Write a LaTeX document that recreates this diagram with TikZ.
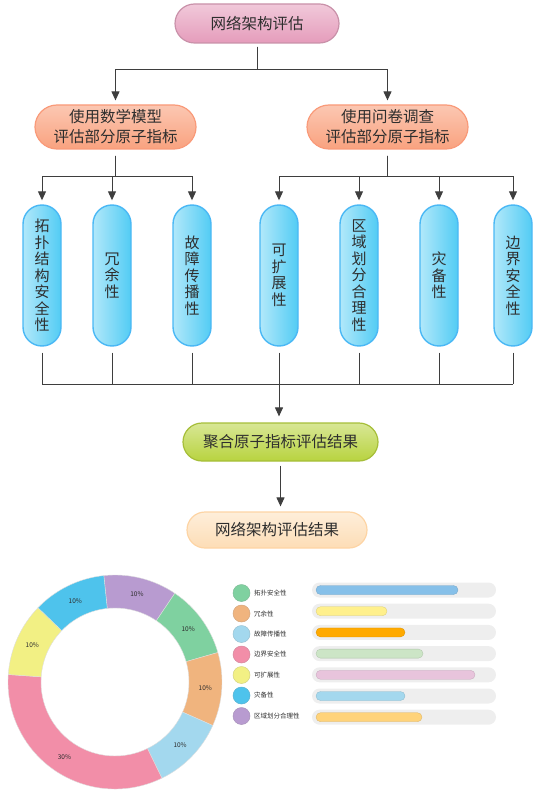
\documentclass[tikz,border=0pt]{standalone}
\usepackage{fontspec}
\setmainfont{Noto Sans CJK SC}
\usepackage{tikz}
\usetikzlibrary{arrows.meta}

\definecolor{linegray}{HTML}{3E3E3E}
\definecolor{txtgray}{HTML}{2E2E2E}
\definecolor{dpurple}{HTML}{B89BD0}
\definecolor{dgreen}{HTML}{7FD1A0}
\definecolor{dorange}{HTML}{F0B47E}
\definecolor{dlblue}{HTML}{A3D8EE}
\definecolor{dpink}{HTML}{F28EA8}
\definecolor{dyellow}{HTML}{F2F084}
\definecolor{dblue}{HTML}{4EC3EC}
\definecolor{bargray}{HTML}{EEEEEE}
\definecolor{barone}{HTML}{86C0E9}
\definecolor{bartwo}{HTML}{FFF08C}
\definecolor{barthree}{HTML}{FFAA00}
\definecolor{barfour}{HTML}{CCE5C6}
\definecolor{barfive}{HTML}{E8C4DC}
\definecolor{barsix}{HTML}{A4D8EE}
\definecolor{barseven}{HTML}{FFD37A}

\tikzset{
  box/.style={rectangle, inner sep=0pt, text=txtgray, align=center, line width=1.2pt,
    font=\fontsize{15.5}{20}\selectfont},
  netbox/.style={box, minimum width=164pt, minimum height=39pt, rounded corners=19.5pt,
    top color=white!45!netpink, bottom color=netpink, draw=netpink!85!black!90},
  methodbox/.style={box, minimum width=161pt, minimum height=44pt, rounded corners=22pt,
    top color=white!40!methodorange, bottom color=methodorange, draw=methodorange!95!red},
  pill/.style={box, minimum width=38pt, minimum height=141pt, rounded corners=19pt,
    font=\fontsize{15}{16.5}\selectfont, line width=1.4pt,
    left color=white!55!pillblue, right color=pillblue, draw=pillblue!90!blue},
  aggbox/.style={box, minimum width=195pt, minimum height=38pt, rounded corners=19pt,
    top color=white!45!agggreen, bottom color=agggreen, draw=agggreen!90!black},
  resbox/.style={box, minimum width=180pt, minimum height=36pt, rounded corners=18pt,
    top color=white!50!respeach, bottom color=respeach, draw=respeach!90!orange},
  link/.style={draw=linegray, line width=1pt},
  conn/.style={link, -{Triangle[width=8pt,length=9pt]}, shorten >=4pt},
  pct/.style={font=\fontsize{6.5}{7}\selectfont, text=txtgray},
  legend/.style={anchor=west, font=\fontsize{6.5}{8}\selectfont, text=txtgray, inner sep=0pt}
}
\definecolor{netpink}{HTML}{E59CBB}
\definecolor{methodorange}{HTML}{F9A27F}
\definecolor{pillblue}{HTML}{52CCF4}
\definecolor{agggreen}{HTML}{B8D33F}
\definecolor{respeach}{HTML}{FDDDB6}

\begin{document}
\begin{tikzpicture}[x=1pt,y=-1pt]
        \useasboundingbox (0,0) rectangle (537,794);

        \node[netbox] (net) at (257,23.5) {网络架构评估};
        \node[methodbox] (math) at (115.5,127) {使用数学模型\\评估部分原子指标};
        \node[methodbox] (quest) at (387.5,127) {使用问卷调查\\评估部分原子指标};

        \node[pill] (p1) at (42,275.5) {拓\\扑\\结\\构\\安\\全\\性};
        \node[pill] (p2) at (112,275.5) {冗\\余\\性};
        \node[pill] (p3) at (192,275.5) {故\\障\\传\\播\\性};
        \node[pill] (p4) at (279,275.5) {可\\扩\\展\\性};
        \node[pill] (p5) at (359,275.5) {区\\域\\划\\分\\合\\理\\性};
        \node[pill] (p6) at (439,275.5) {灾\\备\\性};
        \node[pill] (p7) at (513,275.5) {边\\界\\安\\全\\性};

        \node[aggbox] (agg) at (280.5,442) {聚合原子指标评估结果};
        \node[resbox] (res) at (277,530) {网络架构评估结果};

        \draw[conn, shorten <=3pt] (net.south) -- ++(0,26) -| (math.north);
        \draw[conn, shorten <=3pt] (net.south) -- ++(0,26) -| (quest.north);

        \draw[conn, shorten <=6pt] (math.south) -- ++(0,27) -| (p1.north);
        \draw[conn, shorten <=6pt] (math.south) -- ++(0,27) -| (p2.north);
        \draw[conn, shorten <=6pt] (math.south) -- ++(0,27) -| (p3.north);
        \draw[conn, shorten <=6pt] (quest.south) -- ++(0,27) -| (p4.north);
        \draw[conn, shorten <=6pt] (quest.south) -- ++(0,27) -| (p5.north);
        \draw[conn, shorten <=6pt] (quest.south) -- ++(0,27) -| (p6.north);
        \draw[conn, shorten <=6pt] (quest.south) -- ++(0,27) -| (p7.north);

        \coordinate (bus) at (279,384);
        \foreach \p in {p1,p2,p3,p4,p5,p6,p7}
          \draw[link, shorten <=6pt] (\p.south) -- (\p.south |- bus);
        \draw[link] (p1.south |- bus) -- (p7.south |- bus);
        \draw[conn, shorten >=6pt] (bus) -- (bus |- agg.north);
        \draw[conn, shorten <=4pt, shorten >=5pt] (agg.south) -- (agg.south |- res.north);

        \begin{scope}[shift={(115,682)}, y=1pt]
          \foreach \a/\b/\c/\t in {96/56/dpurple/10\%, 56/16/dgreen/10\%, 16/-24/dorange/10\%,
              -24/-64/dlblue/10\%, -64/-184/dpink/30\%, 176/136/dyellow/10\%, 136/96/dblue/10\%}{
            \filldraw[fill=\c, draw=white!75!gray, line width=0.4pt] (\a:107)
              arc[start angle=\a, end angle=\b, radius=107] -- (\b:74)
              arc[start angle=\b, end angle=\a, radius=74] -- cycle;
            \node[pct] at ({(\a+\b)/2}:90.5) {\t};
          }
        \end{scope}

        \foreach \c/\t [count=\i from 0] in {dgreen/拓扑安全性, dorange/冗余性, dlblue/故障传播性,
            dpink/边界安全性, dyellow/可扩展性, dblue/灾备性, dpurple/区域划分合理性}{
          \filldraw[fill=\c, draw=\c!75!gray, line width=0.5pt] (241.5,{593+20.5*\i}) circle[radius=8.5pt];
          \node[legend] at (254,{593+20.5*\i}) {\t};
        }

        \foreach \w/\c [count=\i from 0] in {458/barone, 387/bartwo, 405/barthree, 423/barfour,
            475/barfive, 405/barsix, 422/barseven}{
          \fill[bargray, rounded corners=7.5pt] (312,{582.5+21.2*\i}) rectangle (496,{597.5+21.2*\i});
          \filldraw[fill=\c, draw=\c!85!black, line width=0.3pt, rounded corners=4.5pt]
            (316,{585.5+21.2*\i}) rectangle (\w,{594.5+21.2*\i});
        }
\end{tikzpicture}
\end{document}
